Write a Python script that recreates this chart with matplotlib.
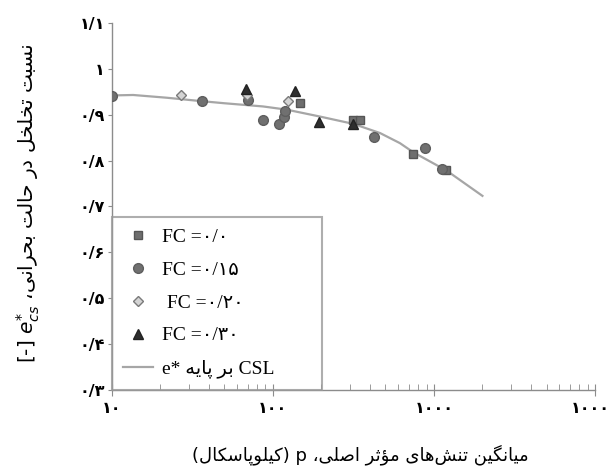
import matplotlib
matplotlib.use("Agg")
import matplotlib.pyplot as plt
from matplotlib.ticker import FixedLocator, LogLocator, NullFormatter

# ---- data ----
fc00_p = [147.5, 316, 348, 745, 1189]
fc00_e = [0.925, 0.889, 0.889, 0.814, 0.779]

fc15_p = [10, 36.5, 70.5, 86.5, 109.6, 117.8, 119, 425, 881, 1117]
fc15_e = [0.941, 0.930, 0.933, 0.889, 0.880, 0.895, 0.909, 0.851, 0.827, 0.781]

fc20_p = [26.9, 69.2, 123.6]
fc20_e = [0.942, 0.942, 0.929]

fc30_p = [68.2, 137.5, 194.5, 316]
fc30_e = [0.957, 0.952, 0.884, 0.880]

csl_p = [10, 13.6, 22, 35, 50, 87, 122, 196, 316, 463, 615, 745, 1200, 2000]
csl_e = [0.942, 0.943, 0.937, 0.930, 0.925, 0.918, 0.911, 0.896, 0.880,
         0.860, 0.838, 0.818, 0.778, 0.723]

y_ticks = [0.3, 0.4, 0.5, 0.6, 0.7, 0.8, 0.9, 1.0, 1.1]
y_ticklabels = ["۰/۳", "۰/۴", "۰/۵", "۰/۶", "۰/۷", "۰/۸", "۰/۹", "۱", "۱/۱"]
x_ticks = [10, 100, 1000, 10000]
x_ticklabels = ["۱۰", "۱۰۰", "۱۰۰۰", "۱۰۰۰۰"]

series_labels = ["FC =۰/۰", "FC =۰/۱۵", " FC =۰/۲۰", "FC =۰/۳۰"]

# ---- minimal Persian shaping (matplotlib has no bidi/shaping) ----
FORMS = {
    "ا": ("\uFE8D", "\uFE8E", None, None),
    "ب": ("\uFE8F", "\uFE90", "\uFE91", "\uFE92"),
    "پ": ("\uFB56", "\uFB57", "\uFB58", "\uFB59"),
    "ت": ("\uFE95", "\uFE96", "\uFE97", "\uFE98"),
    "ث": ("\uFE99", "\uFE9A", "\uFE9B", "\uFE9C"),
    "ح": ("\uFEA1", "\uFEA2", "\uFEA3", "\uFEA4"),
    "خ": ("\uFEA5", "\uFEA6", "\uFEA7", "\uFEA8"),
    "د": ("\uFEA9", "\uFEAA", None, None),
    "ر": ("\uFEAD", "\uFEAE", None, None),
    "س": ("\uFEB1", "\uFEB2", "\uFEB3", "\uFEB4"),
    "ش": ("\uFEB5", "\uFEB6", "\uFEB7", "\uFEB8"),
    "ص": ("\uFEB9", "\uFEBA", "\uFEBB", "\uFEBC"),
    "ک": ("\uFB8E", "\uFB8F", "\uFB90", "\uFB91"),
    "گ": ("\uFB92", "\uFB93", "\uFB94", "\uFB95"),
    "ل": ("\uFEDD", "\uFEDE", "\uFEDF", "\uFEE0"),
    "م": ("\uFEE1", "\uFEE2", "\uFEE3", "\uFEE4"),
    "ن": ("\uFEE5", "\uFEE6", "\uFEE7", "\uFEE8"),
    "ه": ("\uFEE9", "\uFEEA", "\uFEEB", "\uFEEC"),
    "و": ("\uFEED", "\uFEEE", None, None),
    "ؤ": ("\uFE85", "\uFE86", None, None),
    "ی": ("\uFBFC", "\uFBFD", "\uFBFE", "\uFBFF"),
}


def rtl(text):
    """Shape Persian letters and return them in visual (left-to-right) order."""
    out = []
    for i, c in enumerate(text):
        if c not in FORMS:
            out.append(c)
            continue
        prev = text[i - 1] if i > 0 else None
        nxt = text[i + 1] if i + 1 < len(text) else None
        join_prev = prev in FORMS and FORMS[prev][2] is not None
        join_next = FORMS[c][2] is not None and nxt in FORMS
        iso, fin, ini, med = FORMS[c]
        if join_prev and join_next:
            out.append(med)
        elif join_prev:
            out.append(fin)
        elif join_next:
            out.append(ini)
        else:
            out.append(iso)
    return "".join(ch for ch in out if ch != "\u200c")[::-1]


csl_label = "e* " + rtl("بر پایه") + " CSL"
xlabel = "(" + rtl("کیلوپاسکال") + ") p " + rtl("میانگین تنش\u200cهای مؤثر اصلی،")
ylabel = r"[-] $e^{*}_{cs}$ " + rtl("نسبت تخلخل در حالت بحرانی،")

serif = ["Liberation Serif", "DejaVu Sans"]
grey = "#8c8c8c"

fig = plt.figure(figsize=(6.08, 4.76), dpi=100)
ax = fig.add_axes([0.1837, 0.181, 0.795, 0.7707])

ax.plot(csl_p, csl_e, "-", color="#a6a6a6", lw=1.6, label=csl_label, zorder=2)
ax.plot(fc00_p, fc00_e, "s", ms=6, color="#6e6e6e", mec="#555555",
        label=series_labels[0], zorder=3)
ax.plot(fc15_p, fc15_e, "o", ms=7, color="#707070", mec="#5e5e5e",
        label=series_labels[1], zorder=3)
ax.plot(fc20_p, fc20_e, "D", ms=5.5, color="#d4d4d4", mec="#7a7a7a",
        mew=1.0, label=series_labels[2], zorder=4)
ax.plot(fc30_p, fc30_e, "^", ms=7.5, color="#2e2e2e", mec="#222222",
        label=series_labels[3], zorder=5)

ax.set_xscale("log")
ax.set_xlim(10, 10000)
ax.set_ylim(0.3, 1.1)

ax.yaxis.set_major_locator(FixedLocator(y_ticks))
ax.set_yticklabels(y_ticklabels, fontsize=11.5, fontweight="bold")
ax.xaxis.set_major_locator(FixedLocator(x_ticks))
ax.set_xticklabels(x_ticklabels, fontsize=11.5, fontweight="bold")
ax.xaxis.set_minor_locator(LogLocator(base=10, subs=range(2, 10)))
ax.xaxis.set_minor_formatter(NullFormatter())

for side in ("top", "right"):
    ax.spines[side].set_visible(False)
for side in ("left", "bottom"):
    ax.spines[side].set_color(grey)
    ax.spines[side].set_linewidth(1.0)

ax.tick_params(axis="y", direction="out", length=3, color=grey, pad=2)
ax.tick_params(axis="x", which="major", direction="inout", length=8,
               color=grey, pad=4)
ax.tick_params(axis="x", which="minor", direction="in", length=4, color=grey)

handles, labels = ax.get_legend_handles_labels()
order = [1, 2, 3, 4, 0]
leg = ax.legend([handles[i] for i in order], [labels[i] for i in order],
                loc="lower left", bbox_to_anchor=(0, 0, 0.435, 0.47),
                mode="expand", borderaxespad=0, fancybox=False,
                frameon=True, labelspacing=0.78, handlelength=1.55,
                handletextpad=0.45, borderpad=0.6,
                prop={"family": serif, "size": 14})
leg.get_frame().set_facecolor("none")
leg.get_frame().set_edgecolor("#9a9a9a")
leg.get_frame().set_linewidth(1.5)

fig.text(0.592, 1 - 455 / 476, xlabel, ha="center", va="center",
         fontsize=13, family=["DejaVu Sans"])
fig.text(28 / 608, 1 - 203 / 476, ylabel, ha="center", va="center",
         rotation=90, fontsize=14.5)

fig.savefig("out.png", dpi=100)
